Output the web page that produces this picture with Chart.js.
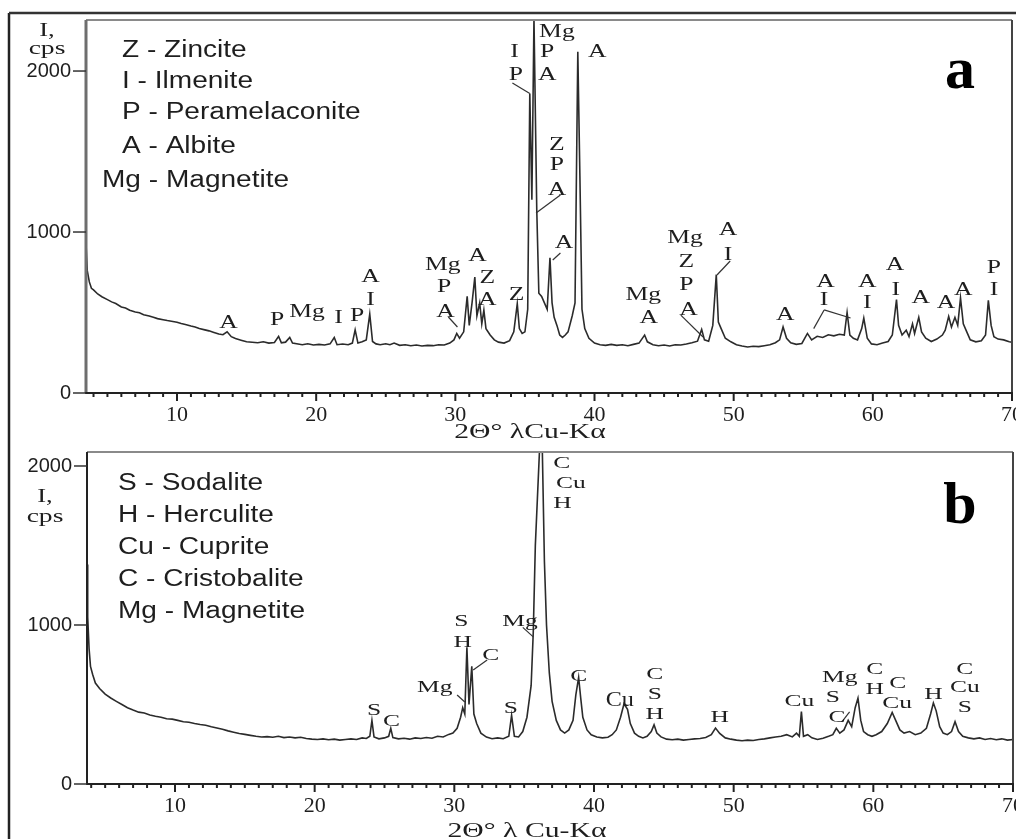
<!DOCTYPE html>
<html>
<head>
<meta charset="utf-8">
<script src="https://cdn.jsdelivr.net/npm/chart.js@4.4.0/dist/chart.umd.min.js"></script>
<style>
  html, body { margin: 0; padding: 0; background: #fff; width: 1016px; height: 839px; overflow: hidden; }
  .panel { position: absolute; left: 0; width: 1016px; }
  #pa { top: 0; height: 443px; }
  #pb { top: 443px; height: 396px; }
</style>
</head>
<body>
<div class="panel" id="pa"><canvas id="chart-a"></canvas></div>
<div class="panel" id="pb"><canvas id="chart-b"></canvas></div>
<script>
/* XRD patterns, panel a and panel b (2θ in degrees, intensity in cps) */

// ── Panel a ──────────────────────────────────────────────────────
const TWO_THETA_A = [
  3.46, 3.55, 3.7, 3.85, 4.0, 4.3, 4.6, 5.0, 5.3, 5.6, 6.0, 6.3, 6.6, 7.0, 7.3, 7.6,
  8.0, 8.3, 8.6, 9.0, 9.3, 9.6, 10.0, 10.3, 10.6, 11.0, 11.3, 11.6, 12.0, 12.3, 12.6,
  13.0, 13.3, 13.6, 13.9, 14.2, 14.6, 15.0, 15.4, 15.8, 16.2, 16.6, 17.0, 17.3, 17.5,
  17.8, 18.1, 18.3, 18.7, 19.0, 19.4, 19.8, 20.2, 20.6, 21.0, 21.3, 21.5, 21.9, 22.3,
  22.6, 22.8, 23.0, 23.3, 23.6, 23.85, 24.05, 24.3, 24.6, 25.0, 25.3, 25.6, 26.0, 26.4,
  26.8, 27.2, 27.6, 28.0, 28.4, 28.8, 29.2, 29.6, 29.9, 30.1, 30.3, 30.6, 30.85, 31.0,
  31.2, 31.4, 31.55, 31.75, 31.9, 32.05, 32.2, 32.5, 32.8, 33.1, 33.5, 33.9, 34.2, 34.45,
  34.6, 34.8, 35.0, 35.2, 35.35, 35.5, 35.65, 35.85, 36.0, 36.2, 36.4, 36.6, 36.8, 36.95,
  37.1, 37.3, 37.5, 37.7, 37.9, 38.1, 38.4, 38.6, 38.8, 38.95, 39.1, 39.3, 39.6, 40.0,
  40.4, 40.8, 41.2, 41.6, 42.0, 42.4, 42.8, 43.2, 43.6, 43.8, 44.2, 44.6, 45.0, 45.4,
  45.8, 46.2, 46.6, 47.0, 47.4, 47.7, 47.9, 48.2, 48.5, 48.75, 48.9, 49.1, 49.4, 49.8,
  50.2, 50.6, 51.0, 51.4, 51.8, 52.2, 52.6, 53.0, 53.3, 53.55, 53.8, 54.1, 54.5, 54.9,
  55.3, 55.6, 56.0, 56.4, 56.8, 57.2, 57.6, 57.95, 58.15, 58.35, 58.6, 58.9, 59.2, 59.35,
  59.6, 59.9, 60.3, 60.7, 61.1, 61.4, 61.7, 61.85, 62.1, 62.4, 62.6, 62.85, 63.0, 63.3,
  63.5, 63.8, 64.2, 64.6, 65.0, 65.2, 65.45, 65.65, 65.9, 66.1, 66.3, 66.5, 66.75, 67.0,
  67.4, 67.8, 68.1, 68.3, 68.5, 68.7, 69.0, 69.4, 69.8, 70.0
];
const INTENSITY_A = [
  930, 760, 690, 650, 640, 615, 598, 580, 566, 556, 534, 528, 514, 503, 498, 486,
  478, 470, 462, 455, 450, 446, 440, 432, 425, 416, 410, 400, 392, 386, 378,
  366, 362, 380, 350, 338, 328, 318, 315, 312, 318, 310, 314, 352, 312,
  316, 345, 310, 304, 300, 306, 298, 302, 298, 305, 345, 300, 304, 300,
  310, 392, 310, 318, 330, 490, 320, 305, 300, 306, 300, 310, 296, 300,
  294, 298, 292, 296, 294, 300, 298, 310, 330, 370, 340, 380, 600, 420,
  560, 720, 480, 560, 430, 515, 400, 360, 330, 316, 310, 325, 380, 555,
  400, 370, 380, 520, 1860, 1200, 2330, 1140, 620, 600, 560, 520, 840, 560,
  470, 420, 360, 345, 360, 380, 480, 560, 2120, 1350, 520, 400, 340, 310,
  300, 296, 302, 296, 300, 294, 302, 310, 360, 318, 300, 294, 298, 292,
  300, 298, 304, 312, 322, 395, 330, 322, 420, 735, 440, 400, 340, 318,
  300, 292, 286, 290, 288, 294, 300, 312, 330, 410, 340, 312, 302, 308,
  370, 330, 352, 345, 362, 355, 365, 360, 500, 360, 340, 330, 400, 465,
  340, 305, 300, 310, 320, 360, 580, 420, 360, 390, 350, 430, 370, 470,
  380, 340, 320, 335, 360, 390, 475, 410, 470, 420, 590, 430, 380, 330,
  318, 325, 360, 575, 420, 350, 335, 330, 318, 316
];
const LEGEND_A = ['Z - Zincite', 'I - Ilmenite', 'P - Peramelaconite', 'A - Albite', 'Mg - Magnetite'];
// [phase letter, 2θ, intensity] for each annotation
const PEAK_LABELS_A = [
  ['A', 13.7, 435],
  ['P', 17.2, 453], ['Mg', 19.35, 500],
  ['I', 21.6, 466], ['P', 22.95, 478],
  ['A', 23.9, 720], ['I', 23.9, 578],
  ['Mg', 29.1, 795], ['P', 29.2, 658], ['A', 29.3, 503],
  ['A', 31.6, 851],
  ['Z', 32.3, 714], ['A', 32.3, 578],
  ['Z', 34.4, 609],
  ['I', 34.25, 2118], ['P', 34.35, 1975],
  ['Mg', 37.3, 2242], ['P', 36.6, 2118], ['A', 36.6, 1975],
  ['A', 40.2, 2118],
  ['Z', 37.3, 1540], ['P', 37.3, 1416], ['A', 37.3, 1260],
  ['A', 37.8, 930],
  ['Mg', 43.5, 609], ['A', 43.9, 466],
  ['Mg', 46.5, 963], ['Z', 46.6, 814], ['P', 46.6, 671], ['A', 46.75, 516],
  ['A', 49.6, 1012], ['I', 49.6, 857],
  ['A', 53.7, 484],
  ['A', 56.6, 689], ['I', 56.5, 578],
  ['A', 59.6, 689], ['I', 59.6, 559],
  ['A', 61.6, 795], ['I', 61.65, 640],
  ['A', 63.45, 590],
  ['A', 65.25, 559],
  ['A', 66.5, 640],
  ['P', 68.7, 776], ['I', 68.7, 640]
];
// [2θ from, I from, 2θ to, I to]
const LEADERS_A = [
  [34.1, 1925, 35.35, 1860],
  [37.55, 1230, 35.8, 1118],
  [37.55, 870, 37.0, 826],
  [29.5, 472, 30.15, 410],
  [46.2, 484, 47.8, 348],
  [49.75, 820, 48.8, 733],
  [56.5, 516, 55.75, 400],
  [56.5, 516, 58.4, 466]
];

// ── Panel b ──────────────────────────────────────────────────────
const TWO_THETA_B = [
  3.7, 3.75, 3.85, 3.95, 4.1, 4.3, 4.6, 5.0, 5.4, 5.8, 6.2, 6.6, 7.0, 7.4, 7.8, 8.2,
  8.6, 9.0, 9.4, 9.8, 10.2, 10.6, 11.0, 11.4, 11.8, 12.2, 12.6, 13.0, 13.4, 13.8, 14.2,
  14.6, 15.0, 15.4, 15.8, 16.2, 16.6, 17.0, 17.4, 17.8, 18.2, 18.6, 19.0, 19.4, 19.8,
  20.2, 20.6, 21.0, 21.4, 21.8, 22.2, 22.6, 23.0, 23.4, 23.7, 23.95, 24.1, 24.25, 24.6,
  25.0, 25.3, 25.45, 25.6, 26.0, 26.4, 26.8, 27.2, 27.6, 28.0, 28.4, 28.8, 29.2, 29.6,
  29.9, 30.2, 30.45, 30.6, 30.75, 30.9, 31.05, 31.25, 31.4, 31.6, 31.9, 32.3, 32.7, 33.1,
  33.5, 33.9, 34.1, 34.3, 34.6, 34.9, 35.2, 35.5, 35.65, 35.8, 35.95, 36.1, 36.3, 36.45,
  36.6, 36.8, 37.0, 37.3, 37.6, 37.9, 38.2, 38.5, 38.7, 38.9, 39.05, 39.2, 39.5, 39.8,
  40.2, 40.6, 41.0, 41.3, 41.6, 41.9, 42.15, 42.4, 42.6, 42.9, 43.2, 43.5, 43.8, 44.1,
  44.3, 44.5, 44.8, 45.2, 45.6, 46.0, 46.4, 46.8, 47.2, 47.6, 48.0, 48.4, 48.7, 49.0,
  49.4, 49.8, 50.2, 50.6, 51.0, 51.4, 51.8, 52.2, 52.6, 53.0, 53.4, 53.8, 54.2, 54.5,
  54.7, 54.85, 55.0, 55.3, 55.6, 56.0, 56.4, 56.8, 57.1, 57.35, 57.6, 57.9, 58.2, 58.45,
  58.7, 58.9, 59.1, 59.3, 59.6, 59.9, 60.2, 60.6, 61.0, 61.35, 61.6, 61.9, 62.2, 62.6,
  63.0, 63.4, 63.8, 64.1, 64.3, 64.5, 64.75, 65.0, 65.3, 65.6, 65.85, 66.1, 66.4, 66.8,
  67.2, 67.6, 68.0, 68.4, 68.8, 69.2, 69.6, 70.0
];
const INTENSITY_B = [
  1380, 1050, 850, 740, 690, 635, 600, 565, 541, 520, 500, 480, 465, 452, 446, 434,
  426, 420, 410, 408, 400, 392, 388, 380, 374, 370, 360, 352, 344, 334, 326,
  318, 312, 306, 300, 296, 298, 294, 300, 292, 296, 290, 294, 286, 282,
  280, 284, 278, 282, 276, 280, 284, 280, 290, 286, 300, 400, 296, 284,
  290, 300, 350, 292, 284, 288, 282, 290, 286, 292, 288, 300, 296, 312,
  320, 350, 420, 480, 440, 860, 500, 740, 440, 380, 320, 295, 285, 290,
  285, 300, 432, 300, 296, 330, 420, 620, 950, 1500, 1800, 2100, 2100, 1400,
  1000, 700, 520, 400, 340, 320, 340, 400, 560, 670, 540, 420, 340, 310,
  296, 290, 294, 310, 340, 420, 505, 470, 380, 320, 300, 290, 300, 330,
  372, 320, 296, 282, 278, 282, 276, 280, 284, 286, 292, 310, 352, 318,
  290, 282, 276, 272, 276, 274, 280, 284, 290, 296, 300, 310, 296, 320,
  300, 455, 300, 310, 290, 280, 288, 300, 310, 350, 320, 340, 400, 360,
  480, 540, 400, 330, 310, 300, 310, 330, 380, 450, 400, 340, 320, 330,
  310, 320, 350, 440, 510, 460, 360, 320, 310, 330, 392, 330, 300, 290,
  284, 290, 280, 286, 278, 284, 276, 280
];
const LEGEND_B = ['S - Sodalite', 'H - Herculite', 'Cu - Cuprite', 'C - Cristobalite', 'Mg - Magnetite'];
const PEAK_LABELS_B = [
  ['S', 24.25, 465], ['C', 25.5, 390],
  ['Mg', 28.6, 604],
  ['S', 30.5, 1019], ['H', 30.6, 890],
  ['C', 32.6, 811],
  ['S', 34.05, 472],
  ['Mg', 34.7, 1019],
  ['C', 37.7, 2013], ['Cu', 38.35, 1887], ['H', 37.75, 1767],
  ['C', 38.9, 673],
  ['C', 44.35, 686], ['S', 44.35, 560], ['H', 44.35, 440],
  ['H', 49.0, 415],
  ['Cu', 54.7, 516], ['S', 57.1, 541], ['Mg', 57.6, 667], ['C', 57.4, 421],
  ['C', 60.1, 717], ['H', 60.1, 591], ['C', 61.75, 635], ['Cu', 61.7, 509],
  ['H', 64.3, 560],
  ['C', 66.55, 717], ['Cu', 66.55, 604], ['S', 66.55, 478]
];
const BIG_LABELS_B = [['Cu', 41.85, 528]];
const LEADERS_B = [
  [30.2, 560, 30.75, 516],
  [32.35, 780, 31.35, 717],
  [34.9, 985, 35.65, 925],
  [57.75, 390, 58.3, 453]
];

const X_TICKS = Array.from({ length: 67 }, (_, i) => i + 4);  // 4 … 70, minor every degree
const Y_TICKS = [0, 1000, 2000];

const SERIF = '"Liberation Serif", "Times New Roman", serif';
const SANS  = '"Liberation Sans", Arial, sans-serif';
const INK   = '#1e1e1e';

function stretchedText(ctx, text, x, y, font, sx, align) {
  ctx.save();
  ctx.font = font;
  ctx.translate(x, y);
  ctx.scale(sx, 1);
  ctx.textAlign = align || 'center';
  ctx.textBaseline = 'middle';
  ctx.fillText(text, 0, 0);
  ctx.restore();
}

function line(ctx, x1, y1, x2, y2, w, c) {
  ctx.save();
  ctx.lineWidth = w;
  ctx.strokeStyle = c;
  ctx.beginPath();
  ctx.moveTo(x1, y1);
  ctx.lineTo(x2, y2);
  ctx.stroke();
  ctx.restore();
}

// the axes must not push the plot box inwards for their end labels
function noPadding(s) {
  s.paddingTop = 0; s.paddingBottom = 0; s.paddingLeft = 0; s.paddingRight = 0;
}

// Frames, ticks, annotations and text drawn over each chart
function decorPlugin(p) {
  return {
    id: 'decor',
    afterDraw(chart) {
      const { ctx, chartArea: a, scales: { x, y } } = chart;
      ctx.save();
      ctx.fillStyle = INK;

      // outer figure frame
      line(ctx, 9, Math.max(p.frameTop, 0), 9, chart.height, 2.5, '#222');
      if (p.frameTop >= 0) line(ctx, 9, p.frameTop, chart.width, p.frameTop, 2.5, '#333');

      // plot box
      line(ctx, a.left, a.top, a.right, a.top, 2, '#8a8a8a');
      line(ctx, a.left, a.top, a.left, a.bottom, p.leftW, p.leftC);
      line(ctx, a.right, a.top, a.right, a.bottom, 2, '#444');
      line(ctx, a.left - 1, a.bottom, a.right + 1, a.bottom, 2, '#222');

      // tick marks
      X_TICKS.forEach(v => {
        const px = x.getPixelForValue(v);
        line(ctx, px, a.bottom, px, a.bottom + (v % 10 === 0 ? 8 : 4), 2, '#222');
      });
      Y_TICKS.forEach(v => {
        const py = y.getPixelForValue(v);
        line(ctx, a.left - 13, py, a.left, py, 1.5, '#333');
      });

      // leader lines
      p.leaders.forEach(([x1, y1, x2, y2]) => {
        line(ctx, x.getPixelForValue(x1), y.getPixelForValue(y1),
                  x.getPixelForValue(x2), y.getPixelForValue(y2), 1.2, '#333');
      });

      // phase letters on peaks
      p.labels.forEach(([t, vx, vy]) => {
        stretchedText(ctx, t, x.getPixelForValue(vx), y.getPixelForValue(vy), p.labelFont, p.labelSX);
      });
      (p.bigLabels || []).forEach(([t, vx, vy]) => {
        stretchedText(ctx, t, x.getPixelForValue(vx), y.getPixelForValue(vy), '22px ' + SERIF, 1.1);
      });

      // legend of phases
      p.legend.forEach((t, i) => {
        stretchedText(ctx, t, p.legendX[i], p.legendY[i], '23px ' + SANS, 1.22, 'left');
      });

      // axis captions
      stretchedText(ctx, 'I,', p.capX, p.capY1, '19px ' + SERIF, 1.4);
      stretchedText(ctx, 'cps', p.capX, p.capY2, '19px ' + SERIF, 1.45);
      stretchedText(ctx, p.xTitle, p.xTitleX, p.xTitleY, '22px ' + SERIF, 1.35);

      // panel letter
      ctx.font = 'bold 60px ' + SERIF;
      ctx.textAlign = 'center';
      ctx.textBaseline = 'alphabetic';
      ctx.fillStyle = '#000';
      ctx.fillText(p.letter, 960, p.letterBase);
      ctx.restore();
    }
  };
}

function buildXrdChart(canvasId, xs, ys, p) {
  const ctx = document.getElementById(canvasId).getContext('2d');
  new Chart(ctx, {
    type: 'line',
    data: {
      datasets: [{
        data: xs.map((v, i) => ({ x: v, y: ys[i] })),
        borderColor: '#2b2b2b',
        borderWidth: 1.6,
        pointRadius: 0,
        tension: 0,
        fill: false
      }]
    },
    options: {
      responsive: true,
      maintainAspectRatio: false,
      animation: false,
      layout: { padding: p.padding, autoPadding: false },
      plugins: { legend: { display: false }, tooltip: { enabled: false } },
      scales: {
        x: {
          type: 'linear',
          min: p.xMin, max: 70,
          afterBuildTicks: s => { s.ticks = X_TICKS.map(v => ({ value: v })); },
          afterFit: s => { s.height = p.xHeight; noPadding(s); },
          ticks: {
            autoSkip: false, maxRotation: 0, padding: 9,
            color: INK, font: { family: SERIF, size: 22 },
            callback: v => (v % 10 === 0 ? String(v) : '')
          },
          grid: { display: false, drawTicks: false },
          border: { display: false }
        },
        y: {
          min: 0, max: p.yMax,
          afterBuildTicks: s => { s.ticks = Y_TICKS.map(v => ({ value: v })); },
          afterFit: s => { s.width = p.yWidth; noPadding(s); },
          ticks: {
            padding: 15, color: INK, font: { family: SANS, size: 20 },
            callback: v => String(v)
          },
          grid: { display: false, drawTicks: false },
          border: { display: false }
        }
      }
    },
    plugins: [decorPlugin(p)]
  });
}

document.addEventListener('DOMContentLoaded', () => {
  buildXrdChart('chart-a', TWO_THETA_A, INTENSITY_A, {
    xMin: 3.46, yMax: 2317, yWidth: 86, xHeight: 47,
    padding: { left: 0, right: 4, top: 20, bottom: 3 },
    frameTop: 13, leftW: 3, leftC: '#6e6e6e',
    labels: PEAK_LABELS_A, leaders: LEADERS_A,
    labelFont: '19px ' + SERIF, labelSX: 1.35,
    legend: LEGEND_A, legendX: [122, 122, 122, 122, 102], legendY: [51, 82, 113, 147, 181],
    capX: 47, capY1: 31, capY2: 49,
    xTitle: '2Θ° λCu-Kα', xTitleX: 530, xTitleY: 432,
    letter: 'a', letterBase: 88
  });

  buildXrdChart('chart-b', TWO_THETA_B, INTENSITY_B, {
    xMin: 3.7, yMax: 2088, yWidth: 87, xHeight: 55,
    padding: { left: 0, right: 3, top: 9, bottom: 0 },
    frameTop: -1, leftW: 2, leftC: '#222',
    labels: PEAK_LABELS_B, bigLabels: BIG_LABELS_B, leaders: LEADERS_B,
    labelFont: '17px ' + SERIF, labelSX: 1.5,
    legend: LEGEND_B, legendX: [118, 118, 118, 118, 118], legendY: [41, 73, 105, 137, 169],
    capX: 45, capY1: 54, capY2: 74,
    xTitle: '2Θ° λ Cu-Kα', xTitleX: 527, xTitleY: 388,
    letter: 'b', letterBase: 80
  });
});
</script>
</body>
</html>
